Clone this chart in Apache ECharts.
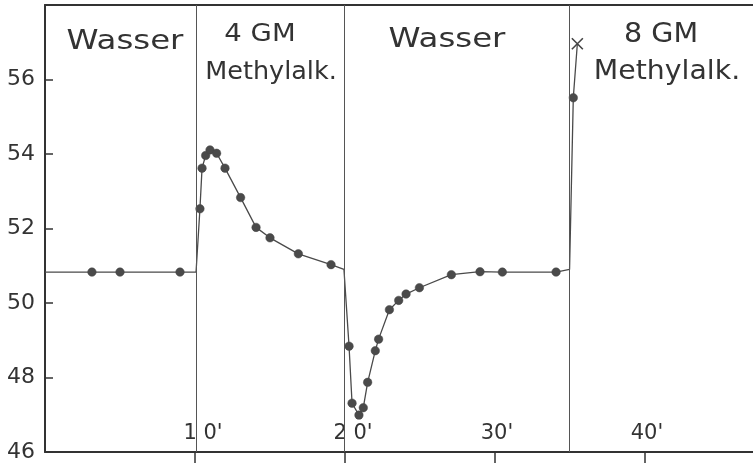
<!DOCTYPE html>
<html>
<head>
<meta charset="utf-8">
<script src="https://cdn.jsdelivr.net/npm/echarts@6/dist/echarts.min.js"></script>
<style>html,body{margin:0;padding:0;background:#fff}#c{width:753px;height:463px}</style>
</head>
<body>
<div id="c"></div>
<script>
// time in minutes
const minutes = [0, 3.13, 5.0, 9.0, 10.07, 10.33, 10.47, 10.71, 11.0, 11.44, 12.0, 13.04, 14.07, 15.0, 16.89, 19.07, 19.93,
  20.27, 20.47, 20.93, 21.22, 21.51, 22.02, 22.24, 22.96, 23.58, 24.07, 24.96, 27.09, 29.0, 30.49, 34.07, 34.97, 35.22, 35.49];
// measured reading
const reading = [50.83, 50.83, 50.83, 50.83, 50.83, 52.53, 53.62, 53.96, 54.11, 54.02, 53.62, 52.83, 52.03, 51.75, 51.32, 51.03, 50.9,
  48.84, 47.31, 46.99, 47.19, 47.87, 48.72, 49.03, 49.82, 50.07, 50.24, 50.41, 50.76, 50.84, 50.83, 50.83, 50.9, 55.51, 56.96];
// marker kind: 0 = none (corner), 1 = dot, 2 = cross
const markerKind = [0, 1, 1, 1, 0, 1, 1, 1, 1, 1, 1, 1, 1, 1, 1, 1, 0,
  1, 1, 1, 1, 1, 1, 1, 1, 1, 1, 1, 1, 1, 1, 1, 0, 1, 2];
// phase boundaries (minutes)
const boundaries = [10.07, 19.93, 34.97];
const xTicks = [10, 20, 30, 40];
const xTickLabels = ["1 0'", "2 0'", "30'", "40'"];
const phaseLabels = ["Wasser", "4 GM", "Methylalk.", "Wasser", "8 GM", "Methylalk."];

const ink = '#333';
const chart = echarts.init(document.getElementById('c'), null, {renderer: 'canvas'});

const seriesData = minutes.map((t, i) => {
  const item = {value: [t, reading[i]]};
  if (markerKind[i] === 0) item.symbol = 'none';
  else if (markerKind[i] === 2) {
    item.symbol = 'path://M0,0L10,10M10,0L0,10';
    item.symbolSize = 11;
    item.itemStyle = {color: 'transparent', borderColor: '#444', borderWidth: 1.6};
  }
  return item;
});

const fontFam = '"DejaVu Sans", sans-serif';
function txt(s, x, y, size, sx) {
  return {type: 'text', x: x, y: y, scaleX: sx, silent: true,
    style: {text: s, x: 0, y: 0, fill: ink, font: size + 'px ' + fontFam, align: 'center', verticalAlign: 'middle'}};
}

chart.setOption({
  animation: false,
  backgroundColor: '#fff',
  grid: {left: 45, right: 0, top: 5, bottom: 11},
  xAxis: [{
    type: 'value', min: 0, max: 47.2, position: 'bottom',
    axisLine: {lineStyle: {color: ink, width: 2}},
    axisTick: {show: true, inside: false, length: 12, customValues: xTicks, lineStyle: {color: ink, width: 1.5}},
    axisLabel: {inside: true, margin: 8, fontSize: 21, color: ink, fontFamily: fontFam, customValues: xTicks,
      formatter: v => {
        const s = xTickLabels[xTicks.indexOf(v)] || '';
        return v < 25 ? '{s|' + s + '}' : '{n|' + s + '}';
      },
      rich: {
        s: {fontSize: 21, color: ink, fontFamily: fontFam, padding: [0, 0, 0, 16]},
        n: {fontSize: 21, color: ink, fontFamily: fontFam, padding: [0, 0, 0, 4]}
      }},
    splitLine: {show: false}
  }, {
    type: 'value', min: 0, max: 47.2, position: 'top',
    axisLine: {show: true, lineStyle: {color: ink, width: 2}},
    axisTick: {show: false}, axisLabel: {show: false}, splitLine: {show: false}
  }],
  yAxis: {
    type: 'value', min: 46, max: 58, interval: 2,
    axisLine: {show: true, lineStyle: {color: ink, width: 2}},
    axisTick: {show: true, inside: true, length: 8, lineStyle: {color: ink, width: 1.5}},
    axisLabel: {margin: 10, fontSize: 22, color: ink, fontFamily: fontFam, showMaxLabel: false,
      formatter: v => (v >= 58 ? '' : String(v))},
    splitLine: {show: false}
  },
  series: [{
    type: 'line',
    data: seriesData,
    symbol: 'circle',
    symbolSize: 8.5,
    itemStyle: {color: '#4a4a4a', borderColor: '#444', borderWidth: 0.5},
    lineStyle: {color: '#4a4a4a', width: 1.3},
    markLine: {
      silent: true, symbol: ['none', 'none'],
      label: {show: false},
      lineStyle: {color: '#555', width: 1, type: 'solid'},
      data: boundaries.map(b => ({xAxis: b}))
    }
  }],
  graphic: [
    txt(phaseLabels[0], 125, 42, 27, 1.2),
    txt(phaseLabels[1], 260, 34, 25, 1.1),
    txt(phaseLabels[2], 271, 72, 25, 1.02),
    txt(phaseLabels[3], 447, 40, 27, 1.2),
    txt(phaseLabels[4], 661, 35, 26, 1.1),
    txt(phaseLabels[5], 667, 72, 27, 1.05)
  ]
});
</script>
</body>
</html>
